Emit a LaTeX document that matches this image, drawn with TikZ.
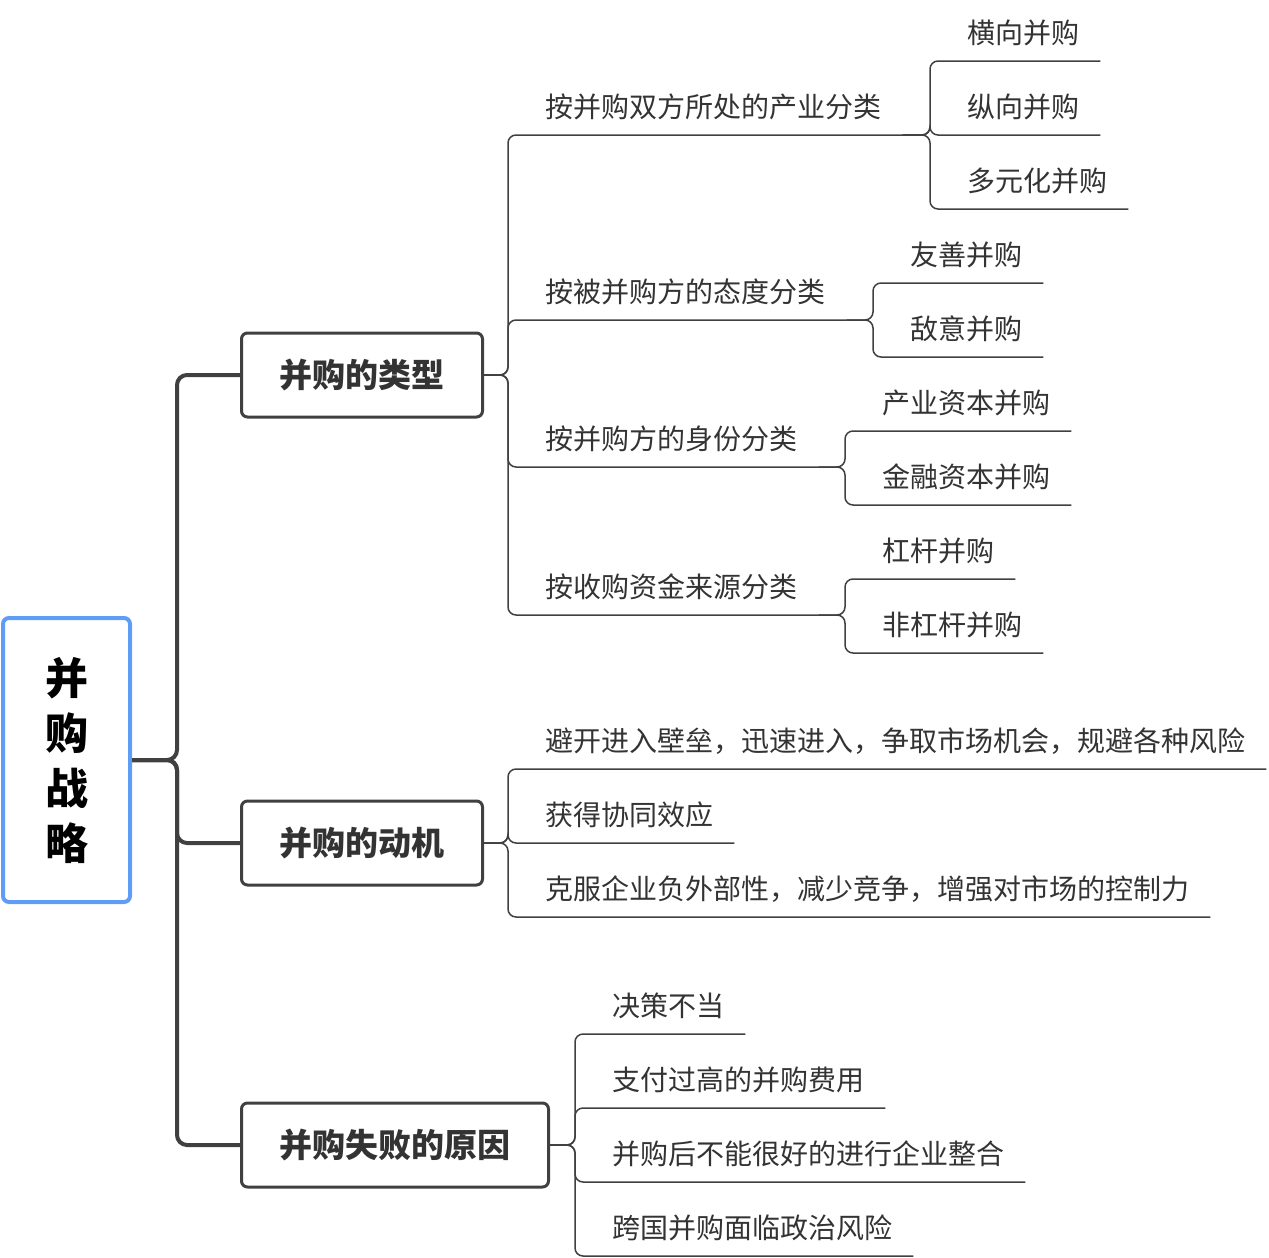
\documentclass[tikz,border=0pt]{standalone}
\usepackage{fontspec}
\setmainfont{Noto Sans CJK SC}
\usepackage{tikz}
\usetikzlibrary{calc}
\definecolor{linegray}{HTML}{404040}
\definecolor{textgray}{HTML}{333333}
\definecolor{rootblue}{HTML}{5E9CF6}

\begin{document}
\begin{tikzpicture}[x=1pt,y=-1pt,
  rootbox/.style={draw=rootblue,line width=4pt,rounded corners=6pt,fill=white,minimum width=127pt,minimum height=284pt,align=center,font=\fontsize{43}{55}\selectfont\bfseries,text=black},
  topicbox/.style={draw=linegray,line width=3pt,rounded corners=6pt,anchor=west,minimum height=84pt,inner xsep=38pt,font=\fontsize{33}{40}\selectfont\bfseries,text=textgray},
  item/.style={anchor=south west,inner sep=0pt,minimum height=56pt,font=\fontsize{28}{34}\selectfont,text=textgray,
    execute at begin node={\hskip37pt},execute at end node={\hskip21pt}},
  trunk/.style={draw=linegray,line width=4pt,rounded corners=10pt},
  branch/.style={draw=linegray,line width=1.5pt,rounded corners=8pt}]
\useasboundingbox (0,0) rectangle (1269,1258);

\node[rootbox] (root) at (66.5,760) {并\\购\\战\\略};

\node[topicbox] (b1) at (240,375) {并购的类型};
\node[topicbox] (b2) at (240,843) {并购的动机};
\node[topicbox] (b3) at (240,1145) {并购失败的原因};

\node[item] (t1) at (508,135) {按并购双方所处的产业分类};
\node[item] (t2) at (508,320) {按被并购方的态度分类};
\node[item] (t3) at (508,467) {按并购方的身份分类};
\node[item] (t4) at (508,615) {按收购资金来源分类};

\node[item] (h1) at (930,61) {横向并购};
\node[item] (h2) at (930,135) {纵向并购};
\node[item] (h3) at (930,209) {多元化并购};
\node[item] (f1) at (873,283) {友善并购};
\node[item] (f2) at (873,357) {敌意并购};
\node[item] (s1) at (845,431) {产业资本并购};
\node[item] (s2) at (845,505) {金融资本并购};
\node[item] (z1) at (845,579) {杠杆并购};
\node[item] (z2) at (845,653) {非杠杆并购};

\node[item] (m1) at (508,769) {避开进入壁垒，迅速进入，争取市场机会，规避各种风险};
\node[item] (m2) at (508,843) {获得协同效应};
\node[item] (m3) at (508,917) {克服企业负外部性，减少竞争，增强对市场的控制力};

\node[item] (r1) at (575,1034) {决策不当};
\node[item] (r2) at (575,1108) {支付过高的并购费用};
\node[item] (r3) at (575,1182) {并购后不能很好的进行企业整合};
\node[item] (r4) at (575,1256) {跨国并购面临政治风险};

% main branches
\foreach \b in {b1,b2,b3}
  \draw[trunk] (root.east) -| ([xshift=-63pt]\b.west) -- (\b.west);

% from the boxes
\foreach \p/\c in {b1/t1,b1/t2,b1/t3,b1/t4,b2/m1,b2/m2,b2/m3,b3/r1,b3/r2,b3/r3,b3/r4}
  \draw[branch] (\p.east) -| (\c.south west) -- (\c.south east);

% from the underlined items
\foreach \p/\c in {t1/h1,t1/h2,t1/h3,t2/f1,t2/f2,t3/s1,t3/s2,t4/z1,t4/z2}
  \draw[branch] (\p.south east) -| (\c.south west) -- (\c.south east);
\end{tikzpicture}
\end{document}
